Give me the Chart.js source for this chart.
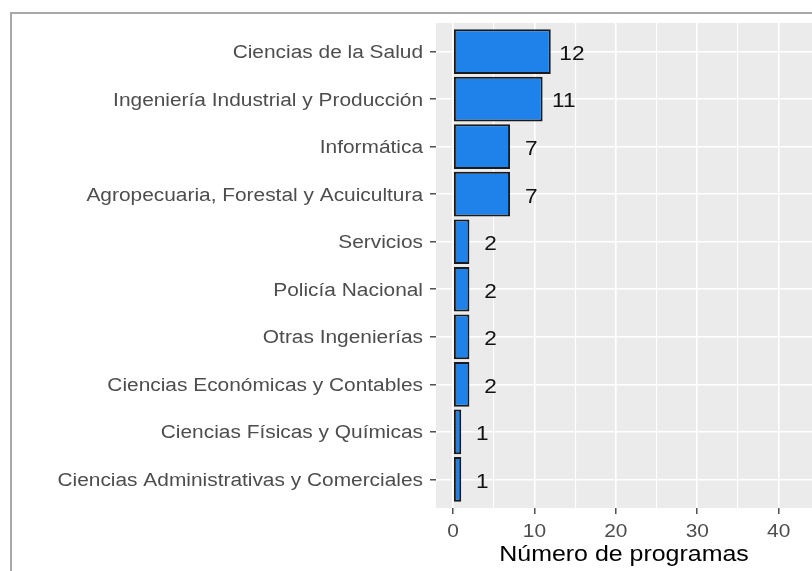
<!DOCTYPE html>
<html>
<head>
<meta charset="utf-8">
<script src="https://cdn.jsdelivr.net/npm/chart.js@4.4.1/dist/chart.umd.min.js"></script>
<style>
	body { margin: 0; background: #fff; overflow: hidden; }
	#marco { position: relative; width: 812px; height: 571px; overflow: hidden; }
	#borde { position: absolute; left: 10px; top: 12px; width: 820px; height: 580px;
		border-left: 2px solid #a8a8a8; border-top: 2px solid #a8a8a8; pointer-events: none; }
</style>
</head>
<body>
<div id="marco">
	<canvas id="grafica" width="812" height="571"></canvas>
	<div id="borde"></div>
</div>
<script>
var areas = [
	'Ciencias de la Salud',
	'Ingeniería Industrial y Producción',
	'Informática',
	'Agropecuaria, Forestal y Acuicultura',
	'Servicios',
	'Policía Nacional',
	'Otras Ingenierías',
	'Ciencias Económicas y Contables',
	'Ciencias Físicas y Químicas',
	'Ciencias Administrativas y Comerciales'
];
var programas = [12, 11, 7, 7, 2, 2, 2, 2, 1, 1];
var marcasX = [0, 10, 20, 30, 40];

// la imagen original viene estirada a lo ancho, asi que el texto tambien
var ESTIRAR = 1.16;
function estirarTexto(ctx) {
	var fill = ctx.fillText.bind(ctx);
	ctx.fillText = function(txt, x, y) {
		ctx.save();
		ctx.translate(x, y);
		ctx.scale(ESTIRAR, 1);
		fill(txt, 0, 0);
		ctx.restore();
	};
}

var fondoPanel = {
	id: 'fondoPanel',
	beforeInit: function(chart) { estirarTexto(chart.ctx); },
	beforeDraw: function(chart) {
		var a = chart.chartArea, ctx = chart.ctx;
		ctx.save();
		ctx.fillStyle = '#ebebeb';
		ctx.fillRect(a.left, a.top, a.right - a.left, a.bottom - a.top);
		ctx.restore();
	}
};

var etiquetasValor = {
	id: 'etiquetasValor',
	afterDatasetsDraw: function(chart) {
		var ctx = chart.ctx, x = chart.scales.x;
		var meta = chart.getDatasetMeta(0);
		ctx.save();
		ctx.font = '19.5px "Liberation Sans", Arial, sans-serif';
		ctx.fillStyle = '#111';
		ctx.textAlign = 'center';
		ctx.textBaseline = 'middle';
		meta.data.forEach(function(barra, i) {
			ctx.fillText(String(programas[i]), x.getPixelForValue(programas[i] + 2.6), barra.y + 3);
		});
		ctx.restore();
	}
};

Chart.defaults.font.family = '"Liberation Sans", Arial, sans-serif';

var ctx = document.getElementById('grafica').getContext('2d');
var chart = new Chart(ctx, {
	type: 'bar',
	data: {
		labels: areas,
		datasets: [{
			data: programas,
			backgroundColor: '#1e82ea',
			borderColor: '#1a1a1a',
			borderWidth: 2,
			borderSkipped: false,
			categoryPercentage: 1,
			barPercentage: 0.94
		}]
	},
	options: {
		indexAxis: 'y',
		responsive: false,
		animation: false,
		layout: { padding: { top: 23, left: 0, right: 0, bottom: 0 } },
		plugins: {
			legend: { display: false },
			tooltip: { enabled: false }
		},
		scales: {
			y: {
				border: { display: false },
				grid: { offset: false, color: '#ffffff', lineWidth: 1.6, tickColor: '#333333', tickLength: 6, tickWidth: 1.3 },
				ticks: { autoSkip: false, padding: 7, labelOffset: 1.5, color: '#4d4d4d', font: { size: 18 } },
				afterBuildTicks: function(scale) {
					// mismo margen que ggplot (0.6 de categoria a cada lado)
					scale._startValue = -0.6;
					scale._valueRange = areas.length - 1 + 1.2;
				},
				afterFit: function(scale) { scale.width = 436; }
			},
			x: {
				min: -2.1,
				max: 44.1,
				border: { display: false },
				grid: {
					color: '#ffffff',
					lineWidth: function(c) { return marcasX.indexOf(c.tick.value) >= 0 ? 1.6 : 1.1; },
					tickColor: function(c) { return marcasX.indexOf(c.tick.value) >= 0 ? '#333333' : 'rgba(0,0,0,0)'; },
					tickLength: 6,
					tickWidth: 1.3
				},
				ticks: {
					stepSize: 5,
					includeBounds: false,
					autoSkip: false,
					maxRotation: 0,
					padding: 7,
					color: '#4d4d4d',
					font: { size: 18 },
					callback: function(v) { return marcasX.indexOf(v) >= 0 ? String(v) : ''; }
				},
				title: {
					display: true,
					text: 'Número de programas',
					color: '#000000',
					font: { size: 21.5 },
					padding: { top: 0, bottom: 3 }
				},
				afterFit: function(scale) { scale.height = 63; }
			}
		}
	},
	plugins: [fondoPanel, etiquetasValor]
});
</script>
</body>
</html>
